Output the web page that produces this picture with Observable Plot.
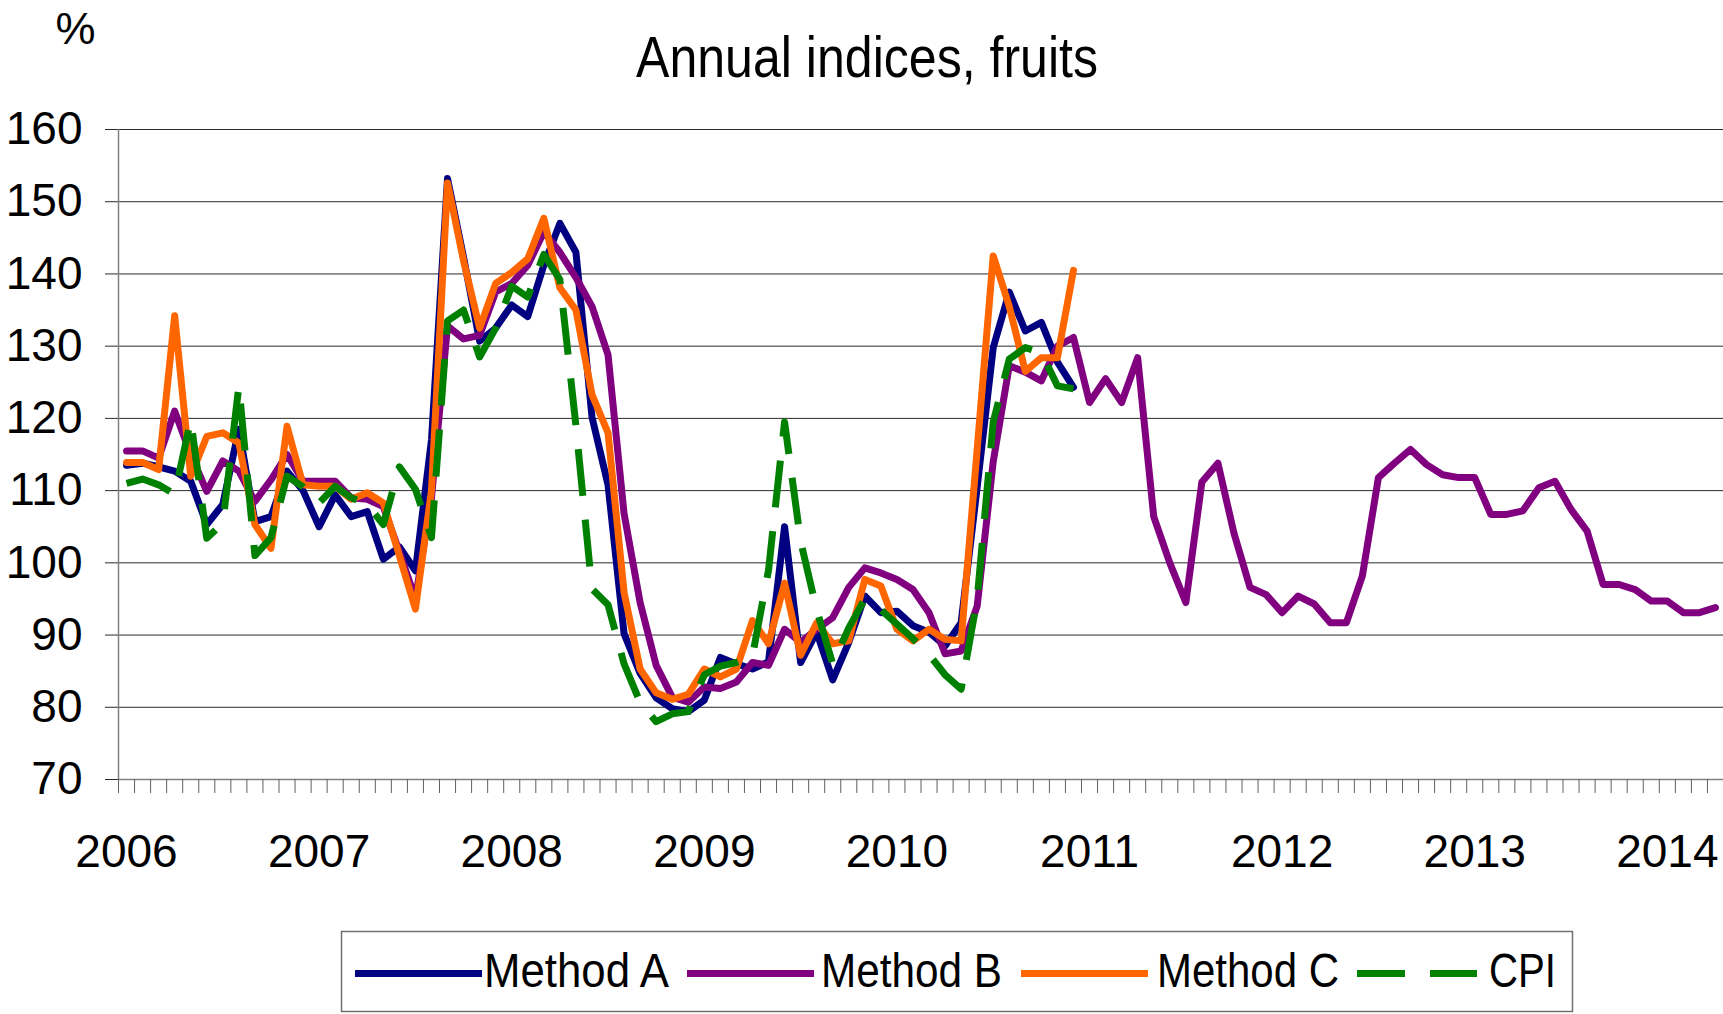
<!DOCTYPE html>
<html>
<head>
<meta charset="utf-8">
<script src="https://cdn.jsdelivr.net/npm/d3@7"></script>
<script src="https://cdn.jsdelivr.net/npm/@observablehq/plot@0.6"></script>
<style>
  html, body { margin: 0; padding: 0; background: white; }
  #chart { position: relative; width: 1723px; height: 1014px; overflow: hidden; font-family: "Liberation Sans", Arial, sans-serif; }
  #chart > svg { position: absolute; left: 0; top: 0; }
</style>
</head>
<body>
<div id="chart"></div>
<script>
// ---- data (monthly, Jan 2006 = index 0) ----
const years = ["2006","2007","2008","2009","2010","2011","2012","2013","2014"];
const yTicks = [70, 80, 90, 100, 110, 120, 130, 140, 150, 160];
const seriesNames = ["Method A", "Method B", "Method C", "CPI"];
const seriesColors = ["#000080", "#800080", "#FF6600", "#008000"];

const methodA = [
  113.5, 113.8, 113.3, 112.7, 111.3, 105.3, 108.1, 118.5, 105.7, 106.4,
  112.7, 110.0, 105.0, 109.4, 106.4, 107.1, 100.5, 102.2, 98.9, 117.0,
  153.2, 142.3, 130.7, 132.5, 135.7, 134.1, 141.2, 147.0, 143.0, 120.2,
  110.8, 90.2, 84.7, 81.3, 79.8, 79.4, 81.0, 86.9, 86.0, 85.3,
  86.3, 105.0, 86.2, 90.4, 83.8, 89.0, 95.4, 93.1, 93.3, 91.3,
  90.4, 88.5, 91.7, 110.5, 129.8, 137.5, 132.1, 133.3, 127.8, 124.3
];
const methodB = [
  115.5, 115.5, 114.5, 121.0, 115.0, 109.9, 114.1, 112.7, 108.5, 111.5,
  115.0, 111.3, 111.3, 111.3, 109.0, 108.8, 107.8, 101.5, 95.0, 109.0,
  132.8, 131.0, 131.5, 137.5, 138.7, 141.2, 145.8, 143.0, 139.5, 135.5,
  128.8, 106.8, 94.5, 85.8, 81.4, 80.7, 82.8, 82.6, 83.5, 86.2,
  85.8, 90.8, 89.0, 90.8, 92.4, 96.6, 99.3, 98.6, 97.7, 96.3,
  93.1, 87.4, 87.8, 94.0, 114.0, 127.3, 126.4, 125.2, 130.0, 131.2,
  122.2, 125.5, 122.2, 128.4, 106.4, 100.0, 94.5, 111.2, 113.8, 104.1,
  96.6, 95.6, 93.1, 95.4, 94.3, 91.7, 91.7, 98.2, 111.8, 113.8,
  115.7, 113.6, 112.2, 111.8, 111.8, 106.7, 106.7, 107.2, 110.4, 111.3,
  107.4, 104.4, 97.0, 97.0, 96.3, 94.7, 94.7, 93.1, 93.1, 93.8
];
const methodC = [
  113.9, 113.9, 112.9, 134.2, 112.0, 117.5, 118.0, 116.6, 105.3, 102.0,
  118.9, 110.8, 110.6, 110.6, 108.8, 109.7, 108.3, 101.0, 93.6, 110.0,
  152.6, 141.8, 132.5, 138.7, 140.2, 142.1, 147.7, 138.1, 135.0, 123.3,
  118.0, 95.9, 85.3, 82.0, 81.1, 81.8, 85.3, 84.2, 85.3, 92.0,
  88.8, 97.2, 87.2, 91.7, 88.8, 89.2, 97.7, 96.8, 90.8, 89.2,
  90.8, 89.4, 89.2, 115.7, 142.5, 135.5, 126.5, 128.4, 128.4, 140.5
];
const cpi = [
  111.0, 111.6, 110.8, 109.5, 119.8, 103.4, 105.5, 124.5, 101.0, 103.5,
  112.0, 110.5, 108.3, 110.6, 109.0, 108.1, 105.3, 113.3, 110.2, 103.5,
  133.5, 135.0, 128.5, 132.5, 138.3, 136.8, 142.7, 139.2, 119.0, 96.4,
  94.2, 86.0, 80.7, 78.0, 79.1, 79.4, 84.5, 85.7, 86.2, 87.1,
  99.0, 119.5, 103.0, 93.5, 86.0, 91.0, 95.0, 93.5, 91.5, 89.5,
  87.3, 84.5, 82.5, 95.0, 119.5, 128.2, 129.8, 129.1, 124.5, 124.1
];
const nMonths = 100;

// ---- build tables ----
const toRows = (arr) => arr.map((v, i) => ({i, v}));
const seriesData = [methodA, methodB, methodC, cpi].map(toRows);
const yearTicks = years.map((_, k) => k * 12);
const monthBounds = d3.range(nMonths + 1).map(k => k - 0.5);

const chart = document.getElementById("chart");
const lw = 7;

const plot = Plot.plot({
  width: 1723,
  height: 900,
  marginLeft: 118,
  marginRight: 0,
  marginTop: 129,
  marginBottom: 121,
  style: {background: "transparent", fontFamily: "'Liberation Sans', Arial, sans-serif", color: "black"},
  x: {type: "linear", domain: [-0.5, nMonths - 0.5]},
  y: {domain: [70, 160]},
  marks: [
    Plot.ruleY(yTicks.filter(d => d > 70), {stroke: "#2a2a2a", strokeWidth: 1}),
    Plot.axisY(yTicks, {tickSize: 13, tickPadding: 23, fontSize: 46, stroke: "#2a2a2a", fill: "black", label: null, tickFormat: d => String(d)}),
    Plot.ruleX([-0.5], {stroke: "#808080", strokeWidth: 1.5}),
    Plot.ruleY([70], {stroke: "#808080", strokeWidth: 1.5}),
    Plot.axisX(monthBounds, {tickSize: 14, tickPadding: 0, stroke: "#606060", tickFormat: () => "", label: null}),
    Plot.axisX(yearTicks, {tickSize: 0, tickPadding: 55, fontSize: 46, fill: "black", label: null, tickFormat: d => years[d / 12]}),
    Plot.line(seriesData[0], {x: "i", y: "v", stroke: seriesColors[0], strokeWidth: lw, strokeLinejoin: "round"}),
    Plot.line(seriesData[1], {x: "i", y: "v", stroke: seriesColors[1], strokeWidth: lw, strokeLinejoin: "round"}),
    Plot.line(seriesData[2], {x: "i", y: "v", stroke: seriesColors[2], strokeWidth: lw, strokeLinejoin: "round"}),
    Plot.line(seriesData[3], {x: "i", y: "v", stroke: seriesColors[3], strokeWidth: lw, strokeLinejoin: "round", strokeLinecap: "butt", strokeDasharray: "47,24"})
  ]
});
chart.appendChild(plot);

// ---- title, unit label and legend ----
const ns = "http://www.w3.org/2000/svg";
const over = document.createElementNS(ns, "svg");
over.setAttribute("width", 1723);
over.setAttribute("height", 1014);
over.setAttribute("font-family", "'Liberation Sans', Arial, sans-serif");
function el(tag, attrs, text) {
  const e = document.createElementNS(ns, tag);
  for (const k in attrs) e.setAttribute(k, attrs[k]);
  if (text != null) e.textContent = text;
  over.appendChild(e);
  return e;
}
el("text", {x: 75.5, y: 44, "font-size": 45, "text-anchor": "middle", fill: "black"}, "%");
el("text", {x: 867, y: 77, "font-size": 57, "text-anchor": "middle", fill: "black", textLength: 462, lengthAdjust: "spacingAndGlyphs"}, "Annual indices, fruits");

el("rect", {x: 341.5, y: 931.5, width: 1231, height: 80, fill: "white", stroke: "#707070", "stroke-width": 1.5});
const legendItems = [
  {lineX: 355, textX: 484, textW: 185},
  {lineX: 687, textX: 821, textW: 181},
  {lineX: 1021, textX: 1157, textW: 182},
  {lineX: 1357, textX: 1489, textW: 67}
];
legendItems.forEach((it, k) => {
  const attrs = {x1: it.lineX, x2: it.lineX + 127, y1: 973.5, y2: 973.5, stroke: seriesColors[k], "stroke-width": 7};
  if (k === 3) { attrs["stroke-dasharray"] = "48,25"; attrs.x2 = it.lineX + 120; }
  el("line", attrs);
  el("text", {x: it.textX, y: 987, "font-size": 47.5, fill: "black", textLength: it.textW, lengthAdjust: "spacingAndGlyphs"}, seriesNames[k]);
});
chart.appendChild(over);
</script>
</body>
</html>
